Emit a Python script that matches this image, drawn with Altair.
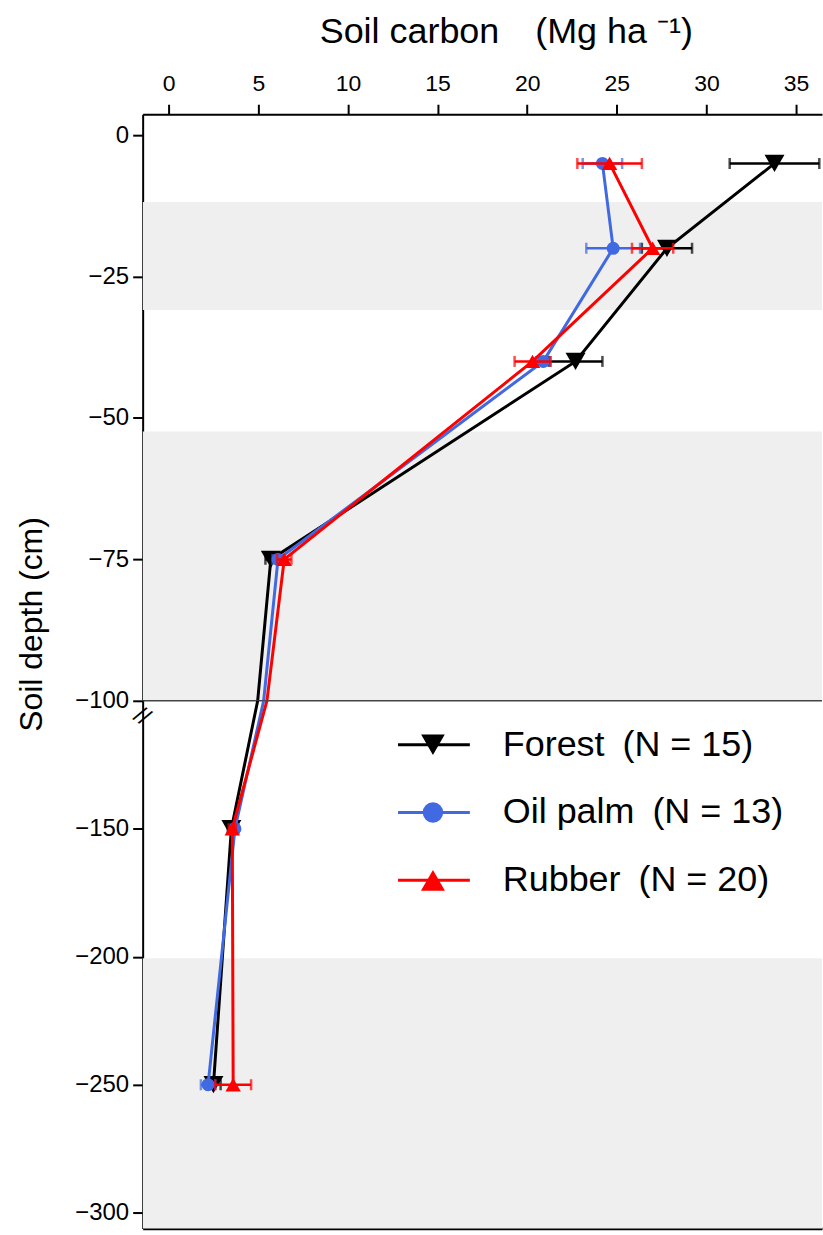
import altair as alt
import pandas as pd

# ---------------- data ----------------
depths = [-5, -20, -40, -75, -150, -250]

forest_mean = [33.8, 27.8, 22.7, 5.7, 3.5, 2.5]
forest_err = [2.5, 1.4, 1.5, 0.3, 0.2, 0.4]

oil_mean = [24.2, 24.8, 20.9, 6.1, 3.7, 2.2]
oil_err = [1.1, 1.5, 0.4, 0.3, 0.2, 0.4]

rub_mean = [24.6, 27.0, 20.3, 6.45, 3.55, 3.6]
rub_err = [1.8, 1.15, 1.0, 0.4, 0.2, 1.0]

systems = ["Forest", "Oil palm", "Rubber"]
sample_n = [15, 13, 20]
colors = ["#000000", "#4169E1", "#FF0000"]
shapes = ["triangle-down", "circle", "triangle-up"]

band_top = [-11.8, -52.4, -200.6]
band_bottom = [-30.9, -100, -320]
BREAK = -100

x_ticks = [0, 5, 10, 15, 20, 25, 30, 35]
y_ticks_upper = [0, -25, -50, -75, -100]
y_ticks_lower = [-150, -200, -250, -300]

# ---------------- tables ----------------
means = {"Forest": forest_mean, "Oil palm": oil_mean, "Rubber": rub_mean}
errs = {"Forest": forest_err, "Oil palm": oil_err, "Rubber": rub_err}
rows = []
for s in systems:
    for d, m, e in zip(depths, means[s], errs[s]):
        rows.append({"system": s, "depth": d, "mean": m, "lo": m - e, "hi": m + e})
df = pd.DataFrame(rows)
bands = pd.DataFrame({"top": band_top, "bottom": band_bottom})

FONT = "Liberation Sans"
W = 681
H_UP = 588
H_LO = 529
X_DOMAIN = [-1.45, 36.45]
SP = "\u2002"

color_scale = alt.Scale(domain=systems, range=colors)
shape_scale = alt.Scale(domain=systems, range=shapes)
point_size = {"Forest": 400, "Oil palm": 170, "Rubber": 240}
legend_size = {"Forest": 560, "Oil palm": 420, "Rubber": 580}


def series_layers(y_scale, x_axis):
    layers = []
    for s in systems:
        base = alt.Chart(df).transform_filter(alt.datum.system == s)
        xenc = alt.X("mean:Q", scale=alt.Scale(domain=X_DOMAIN, nice=False, zero=False), axis=x_axis)
        yenc = alt.Y("depth:Q", scale=y_scale)
        line = base.mark_line(strokeWidth=3, clip=True).encode(
            x=xenc, y=yenc,
            color=alt.Color("system:N", scale=color_scale, legend=None),
            order=alt.Order("depth:Q", sort="descending"),
        )
        bar = base.mark_rule(strokeWidth=2.5, clip=True).encode(
            x="lo:Q", x2="hi:Q", y=yenc,
            color=alt.Color("system:N", scale=color_scale, legend=None),
        )
        caps = base.transform_fold(["lo", "hi"], as_=["k", "v"]).mark_tick(
            orient="vertical", size=11, thickness=2.5, clip=True
        ).encode(
            x="v:Q", y=yenc,
            color=alt.Color("system:N", scale=color_scale, legend=None),
        )
        pts = base.mark_point(filled=True, opacity=1, clip=True, size=point_size[s]).encode(
            x="mean:Q", y=yenc,
            color=alt.Color("system:N", scale=color_scale, legend=None),
            shape=alt.Shape("system:N", scale=shape_scale, legend=None),
        )
        layers += [line, bar, caps, pts]
    return layers


# ---------------- upper panel (0 to -100 cm) ----------------
y_up = alt.Scale(domain=[-100, 3.7], nice=False, zero=False)
x_axis_top = alt.Axis(
    orient="top", values=x_ticks, title=f"Soil carbon{SP}{SP}(Mg ha \u207b\u00b9)",
    titleFontSize=36, titleFont=FONT, titleFontWeight="normal", titleColor="black",
    titleX=364, titleY=-72, titleBaseline="alphabetic", titleAnchor="start", titleAlign="center",
    labelFontSize=23, labelFont=FONT, labelPadding=9, tickSize=10,
)
bands_up = alt.Chart(bands).mark_rect(color="#efefef", clip=True).encode(
    y=alt.Y("top:Q", scale=y_up,
            axis=alt.Axis(values=y_ticks_upper, title="Soil depth (cm)",
                          titleFontSize=32, titleFont=FONT, titleFontWeight="normal",
                          titleColor="black", titleX=-94, titleY=511,
                          titleBaseline="bottom", titleAlign="center", titleAngle=270)),
    y2="bottom:Q",
)
break_rule = alt.Chart(pd.DataFrame({"b": [BREAK]})).mark_rule(color="#444444", strokeWidth=1.5).encode(
    y=alt.Y("b:Q", scale=y_up)
)
upper = alt.layer(bands_up, *series_layers(y_up, x_axis_top), break_rule).properties(width=W, height=H_UP)

# ---------------- lower panel (-100 to -300 cm) ----------------
y_lo = alt.Scale(domain=[-306.2, -100], nice=False, zero=False)
x_axis_bottom = alt.Axis(orient="bottom", labels=False, ticks=False, title=None, domainWidth=2.5)
bands_lo = alt.Chart(bands).mark_rect(color="#efefef", clip=True).encode(
    y=alt.Y("top:Q", scale=y_lo, axis=alt.Axis(values=y_ticks_lower, title=None)),
    y2="bottom:Q",
)

legend_layers = []
for i, (s, n) in enumerate(zip(systems, sample_n)):
    ypx = 44 + 68 * i
    ldf = pd.DataFrame({"system": [s], "label": [f"{s}{SP}(N = {n})"]})
    lc = alt.Chart(ldf)
    legend_layers.append(lc.mark_rule(strokeWidth=3).encode(
        x=alt.value(256), x2=alt.value(328), y=alt.value(ypx),
        color=alt.Color("system:N", scale=color_scale, legend=None)))
    legend_layers.append(lc.mark_point(filled=True, opacity=1, size=legend_size[s]).encode(
        x=alt.value(291), y=alt.value(ypx),
        color=alt.Color("system:N", scale=color_scale, legend=None),
        shape=alt.Shape("system:N", scale=shape_scale, legend=None)))
    legend_layers.append(lc.mark_text(align="left", baseline="middle", fontSize=36, font=FONT, color="black").encode(
        x=alt.value(361), y=alt.value(ypx), text="label:N"))

break_mark = alt.Chart(pd.DataFrame({"t": ["//"]})).mark_text(
    fontSize=24, angle=35, font=FONT, color="black"
).encode(x=alt.value(-1), y=alt.value(16), text="t:N")

lower = alt.layer(bands_lo, *series_layers(y_lo, x_axis_bottom), *legend_layers, break_mark).properties(
    width=W, height=H_LO)

chart = (
    alt.vconcat(upper, lower, spacing=0, bounds="flush")
    .properties(background="white", padding={"left": 16, "top": 12, "right": 0, "bottom": 4})
    .configure_view(stroke=None)
    .configure_axis(
        grid=False, labelColor="black", tickColor="black", domainColor="black",
        domainWidth=2, tickWidth=2, labelFont=FONT, labelFontSize=24, labelPadding=4, tickSize=10,
    )
    .configure_axisX(labelFontSize=23, labelPadding=9)
)

chart.save("out.html", embed_options={"renderer": "svg", "actions": False})
